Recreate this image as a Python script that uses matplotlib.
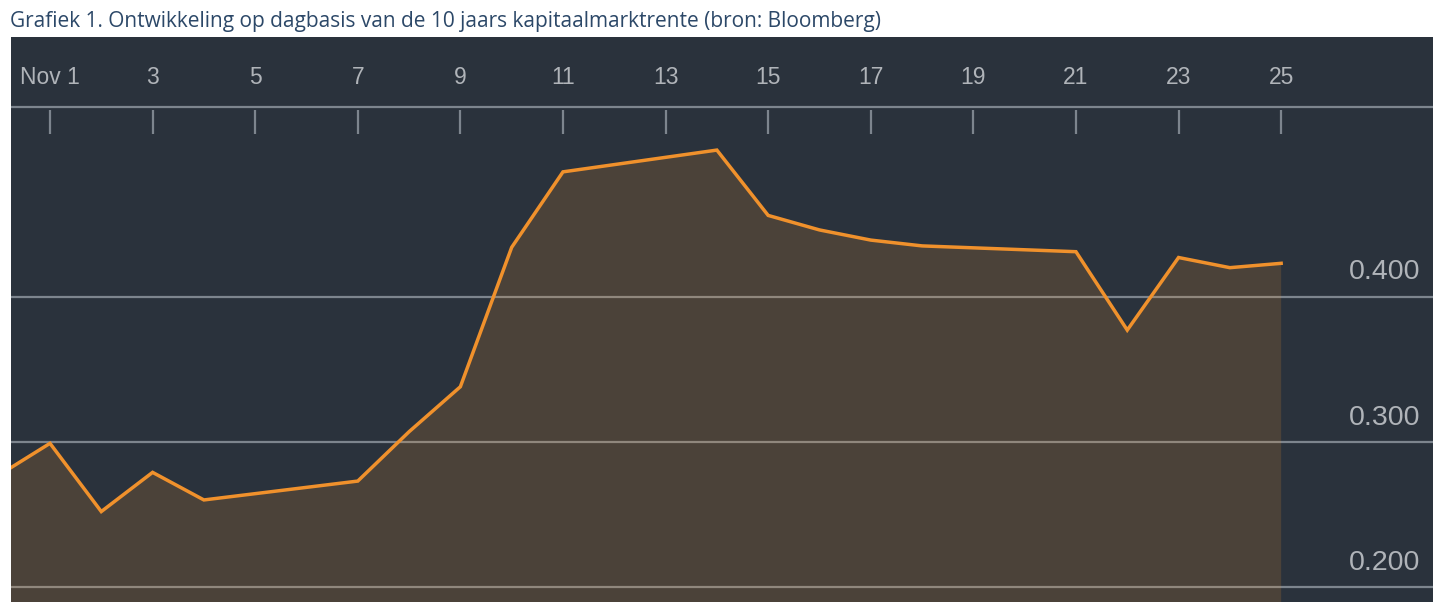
import matplotlib
matplotlib.use("Agg")
import matplotlib.pyplot as plt
from matplotlib import transforms

# 10-year yield, November (trading days only)
days = [0, 1, 2, 3, 4, 7, 8, 9, 10, 11, 14, 15, 16, 17, 18, 21, 22, 23, 24, 25]
yields = [0.277, 0.299, 0.252, 0.279, 0.260, 0.273, 0.307, 0.338, 0.434, 0.486,
          0.501, 0.456, 0.446, 0.439, 0.435, 0.431, 0.377, 0.427, 0.420, 0.423]

tick_days = [1, 3, 5, 7, 9, 11, 13, 15, 17, 19, 21, 23, 25]
tick_labels = ["Nov 1"] + [str(d) for d in tick_days[1:]]
grid_vals = [0.200, 0.300, 0.400]
grid_labels = ["0.200", "0.300", "0.400"]

TITLE = "Grafiek 1. Ontwikkeling op dagbasis van de 10 jaars kapitaalmarktrente (bron: Bloomberg)"

BG = "#2a323c"
ORANGE = "#f0912c"
GRID = "#7d858e"
LABEL = "#b0b4b9"

W, H = 1440, 609
fig = plt.figure(figsize=(W / 100, H / 100), dpi=100, facecolor="white")
ax = fig.add_axes([11 / W, 7 / H, 1422 / W, 565 / H])
ax.set_facecolor(BG)
for sp in ax.spines.values():
    sp.set_visible(False)
ax.set_xticks([]); ax.set_yticks([])
ax.set_xlim(0.24, 27.96)
ax.set_ylim(0.1897, 0.5789)

# horizontal gridlines + right-hand value labels
for v, lab in zip(grid_vals, grid_labels):
    ax.axhline(v, color=GRID, lw=1.6, zorder=1)
    ax.annotate(lab, xy=(0.991, v), xycoords=("axes fraction", "data"),
                xytext=(0, 12.5), textcoords="offset points", ha="right", va="baseline",
                fontsize=20.5, color=LABEL, family="Liberation Sans")

# date axis at the top: baseline, tick marks and labels
trans = transforms.blended_transform_factory(ax.transData, ax.transAxes)
ax.axhline(0.5306, color=GRID, lw=1.6, zorder=1)
ax.vlines(tick_days, 0.828, 0.871, transform=trans, color=GRID, lw=1.6, zorder=1)
for d, lab in zip(tick_days, tick_labels):
    ax.text(d, 0.929, lab, transform=trans, ha="center", va="center",
            fontsize=16.5, color=LABEL, family="Liberation Sans")

# area + line
ax.fill_between(days, yields, 0.0, color=ORANGE, alpha=0.17, lw=0, zorder=2)
ax.plot(days, yields, color=ORANGE, lw=2.5, solid_joinstyle="miter", zorder=3)

# title, scaled to the width it has in the reference
t = fig.text(10 / W, 1 - 27 / H, TITLE, ha="left", va="baseline",
             fontsize=13, color="#2c4868", family="Open Sans")
fig.canvas.draw()
wpx = t.get_window_extent().width
t.set_fontsize(13 * 868 / wpx)

fig.savefig("out.png", dpi=100, facecolor="white")
